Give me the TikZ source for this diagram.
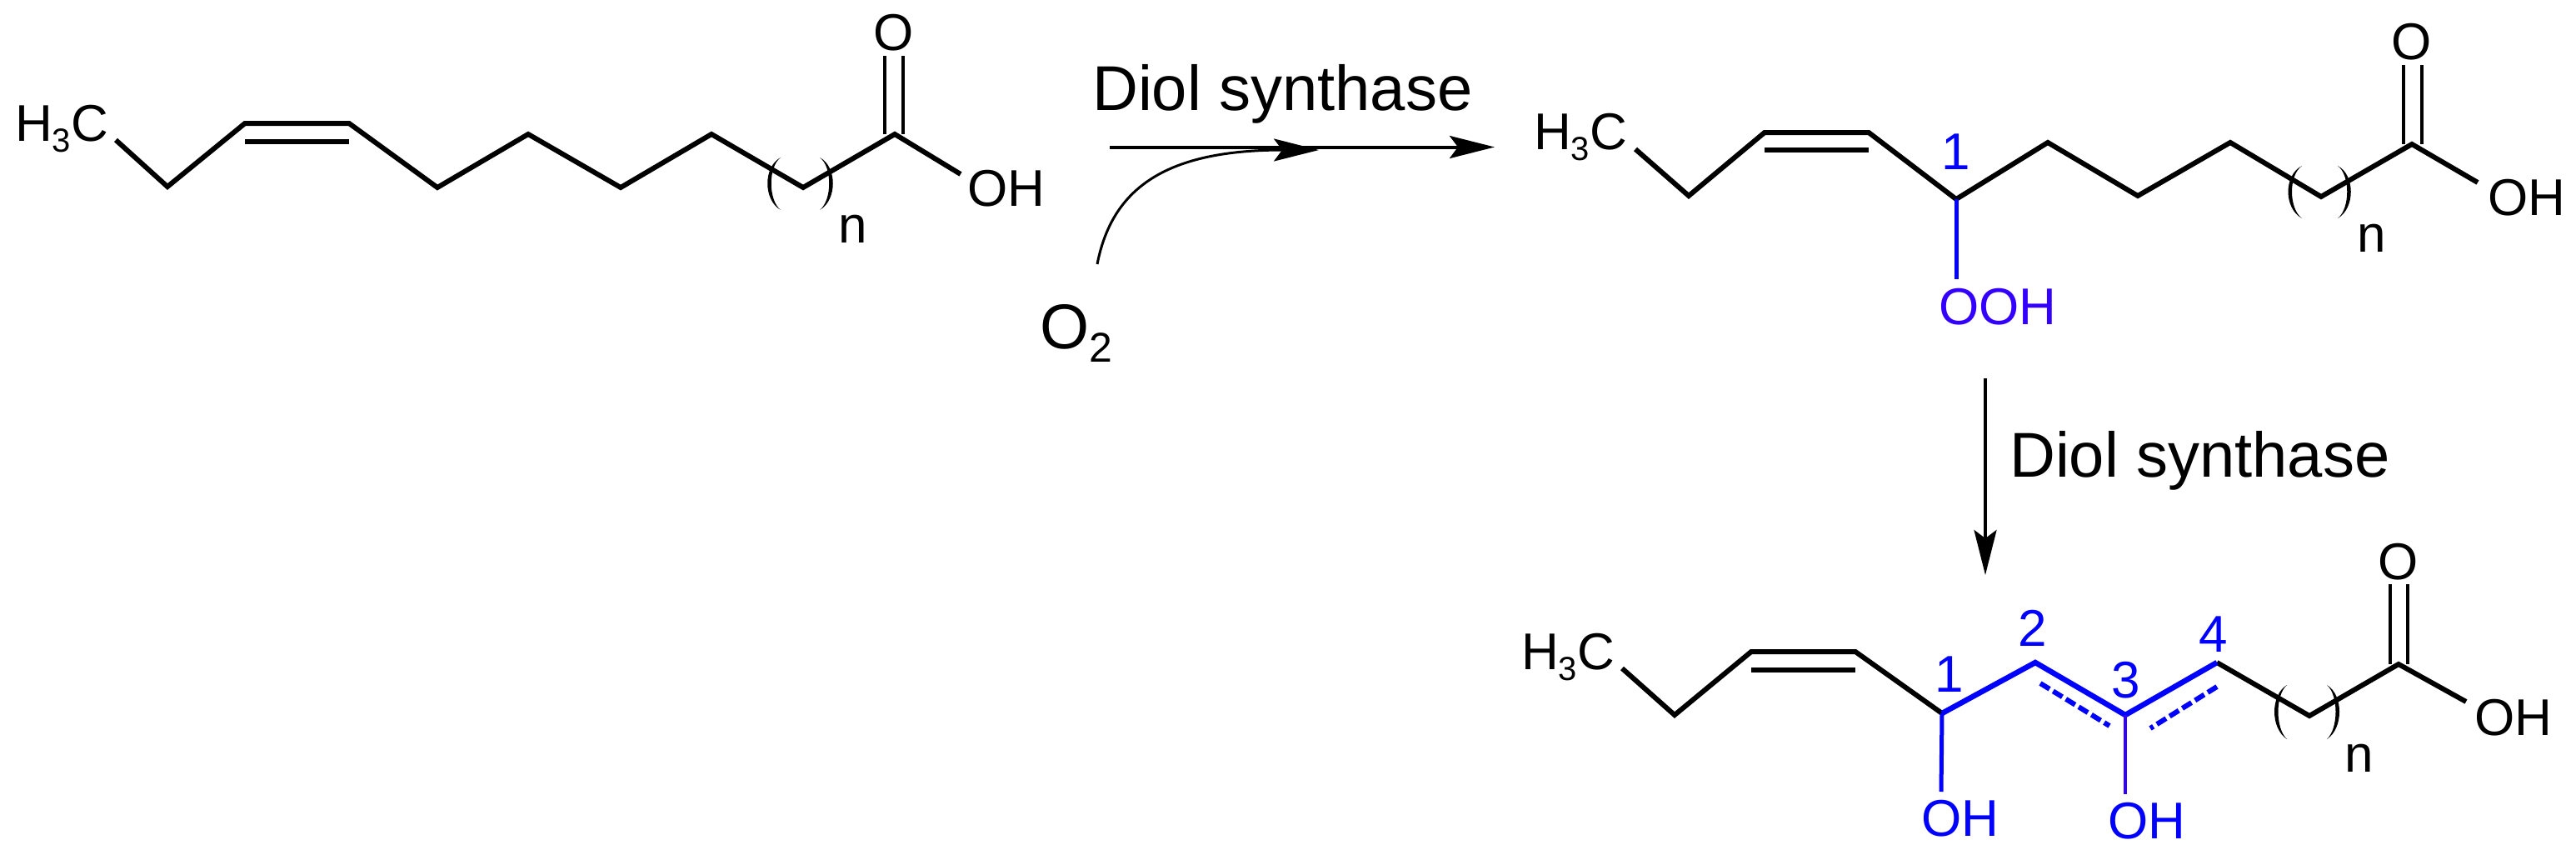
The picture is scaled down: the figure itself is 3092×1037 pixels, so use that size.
\documentclass[tikz,border=0pt]{standalone}
\usepackage{fontspec}
\setmainfont{Liberation Sans}
\usetikzlibrary{arrows.meta}
\definecolor{hlblue}{RGB}{0,0,255}
\definecolor{hlviolet}{RGB}{51,0,255}
\newcommand{\mysub}[1]{\raisebox{-13pt}{\fontsize{40}{40}\selectfont #1}}
\newcommand{\mylens}[6]{% tip x, top y, bulge x, mid y, bottom y, inner bulge x
  \fill[black] (#1,#2) .. controls (#3,#4-20) and (#3,#4+20) .. (#1,#5)
     .. controls (#6,#4+20) and (#6,#4-20) .. (#1,#2) -- cycle;}
\tikzset{
  bond/.style={draw=black,line width=6pt,line join=miter},
  thinbond/.style={draw=black,line width=4.5pt},
  hlbond/.style={draw=hlblue,line width=6.5pt,line join=miter},
  dashbond/.style={draw=hlblue,line width=6pt,dash pattern=on 13pt off 5pt},
  atom/.style={font=\fontsize{62}{62}\selectfont,inner sep=0pt,text=black},
  hlatom/.style={atom,text=hlblue},
  vltatom/.style={atom,text=hlviolet},
  enz/.style={font=\fontsize{76}{76}\selectfont,inner sep=0pt,text=black},
  rxn/.style={draw=black,line width=4pt,-{Stealth[length=54pt,width=27pt,inset=10pt]}},
  rxnb/.style={draw=black,line width=3pt,-{Stealth[length=54pt,width=27pt,inset=10pt]}},
}
\begin{document}
\begin{tikzpicture}[x=1pt,y=-1pt]
\useasboundingbox (0,0) rectangle (3092,1037);
% ---- substrate
\coordinate (a0) at (139,168);\coordinate (a1) at (201,224);\coordinate (a2) at (294,148);
\coordinate (a3) at (419,148);\coordinate (a4) at (525,225);\coordinate (a5) at (634,161);
\coordinate (a6) at (745,225);\coordinate (a7) at (854,161);\coordinate (a8) at (964,225);
\coordinate (a9) at (1074,161);\coordinate (a10) at (1153,209);
\coordinate (ai1) at (294,170);\coordinate (ai2) at (419,170);
\coordinate (ao1) at (1062,161);\coordinate (ao2) at (1062,67);\coordinate (ao3) at (1084,161);\coordinate (ao4) at (1084,67);
\draw[bond] (a0)--(a1)--(a2)--(a3)--(a4)--(a5)--(a6)--(a7)--(a8)--(a9)--(a10);
\draw[bond] (ai1)--(ai2);\draw[thinbond] (ao1)--(ao2);\draw[thinbond] (ao3)--(ao4);
\node[atom,anchor=base west] (h3ca) at (18,169) {H\mysub{3}C};
\node[atom,anchor=base] (oa) at (1073,60) {O};
\node[atom,anchor=base west] (oha) at (1161,247) {OH};
\node[atom,anchor=base] (na) at (1024,291) {n};
\mylens{937}{189}{916}{220}{252}{922}
\mylens{984}{189}{1005}{220}{252}{999}
% ---- reaction arrows
\coordinate (r1s) at (1332,176.5);\coordinate (r1e) at (1794,176.5);
\draw[rxn] (r1s)--(r1e);
\coordinate (r2s) at (1317,317);\coordinate (r2e) at (1583,180);
\draw[rxnb] (r2s) .. controls (1335,225) and (1400,180) .. (r2e);
\node[enz,anchor=base west] (ds1) at (1311,132) {Diol synthase};
\node[atom,anchor=base west,font=\fontsize{76}{76}\selectfont] (o2) at (1248,418) {O\raisebox{-16pt}{\fontsize{50}{50}\selectfont 2}};
\coordinate (r3s) at (2383,454);\coordinate (r3e) at (2383,690);
\draw[rxn] (r3s)--(r3e);
\node[enz,anchor=base west] (ds2) at (2412,572) {Diol synthase};
% ---- hydroperoxide
\coordinate (b0) at (1963,179);\coordinate (b1) at (2027,235);\coordinate (b2) at (2118,159);
\coordinate (b3) at (2243,159);\coordinate (b4) at (2348,239);\coordinate (b5) at (2458,171);
\coordinate (b6) at (2566,235);\coordinate (b7) at (2677,171);\coordinate (b8) at (2786,236);
\coordinate (b9) at (2895,173);\coordinate (b10) at (2974,219);
\coordinate (bi1) at (2118,180);\coordinate (bi2) at (2243,180);
\coordinate (bo1) at (2885,173);\coordinate (bo2) at (2885,78);\coordinate (bo3) at (2907,173);\coordinate (bo4) at (2907,78);
\coordinate (boo) at (2348,335);
\draw[bond] (b0)--(b1)--(b2)--(b3)--(b4)--(b5)--(b6)--(b7)--(b8)--(b9)--(b10);
\draw[bond] (bi1)--(bi2);\draw[thinbond] (bo1)--(bo2);\draw[thinbond] (bo3)--(bo4);
\draw[draw=hlblue,line width=5pt] (b4)--(boo);
\node[atom,anchor=base west] (h3cb) at (1841,179) {H\mysub{3}C};
\node[atom,anchor=base] (ob) at (2895,71) {O};
\node[atom,anchor=base west] (ohb) at (2986,258) {OH};
\node[atom,anchor=base] (nb) at (2847,302) {n};
\node[vltatom,anchor=base west] (oohb) at (2327,389) {OOH};
\node[hlatom,anchor=base] (n1b) at (2348,203) {1};
\mylens{2763}{199}{2741}{230}{262}{2747}
\mylens{2806}{199}{2827}{230}{262}{2821}
% ---- diol
\coordinate (c0) at (1947,802);\coordinate (c1) at (2010,858);\coordinate (c2) at (2102,782);
\coordinate (c3) at (2227,782);\coordinate (c4) at (2331,856);\coordinate (c5) at (2443,795);
\coordinate (c6) at (2551,858);\coordinate (c7) at (2661,795);\coordinate (c8) at (2772,859);
\coordinate (c9) at (2879,797);\coordinate (c10) at (2960,842);
\coordinate (ci1) at (2102,804);\coordinate (ci2) at (2227,804);
\coordinate (co1) at (2869,797);\coordinate (co2) at (2869,701);\coordinate (co3) at (2890,797);\coordinate (co4) at (2890,701);
\coordinate (cd1) at (2449,820);\coordinate (cd2) at (2532,871);\coordinate (cd3) at (2661,824);\coordinate (cd4) at (2581,874);
\coordinate (coh1) at (2330,950);\coordinate (coh2) at (2551,953);
\draw[bond] (c0)--(c1)--(c2)--(c3)--(c4);
\draw[bond] (c7)--(c8)--(c9)--(c10);
\draw[bond] (ci1)--(ci2);\draw[thinbond] (co1)--(co2);\draw[thinbond] (co3)--(co4);
\draw[hlbond] (c4)--(c5)--(c6)--(c7);
\draw[dashbond] (cd1)--(cd2);\draw[dashbond] (cd3)--(cd4);
\draw[draw=hlblue,line width=5pt] (c4)--(coh1);
\draw[draw=hlviolet,line width=4.5pt] (c6)--(coh2);
\node[atom,anchor=base west] (h3cc) at (1826,803) {H\mysub{3}C};
\node[atom,anchor=base] (oc) at (2879,695) {O};
\node[atom,anchor=base west] (ohc) at (2970,882) {OH};
\node[atom,anchor=base] (nc) at (2832,926) {n};
\node[hlatom,anchor=base west] (ohc1) at (2306,1003) {OH};
\node[hlatom,anchor=base west] (ohc2) at (2530,1006) {OH};
\node[hlatom,anchor=base] (n1c) at (2340,830) {1};
\node[hlatom,anchor=base] (n2c) at (2440,775) {2};
\node[hlatom,anchor=base] (n3c) at (2552,837) {3};
\node[hlatom,anchor=base] (n4c) at (2657,782) {4};
\mylens{2745}{822}{2725}{854}{887}{2731}
\mylens{2793}{822}{2813}{854}{887}{2807}
\end{tikzpicture}
\end{document}
